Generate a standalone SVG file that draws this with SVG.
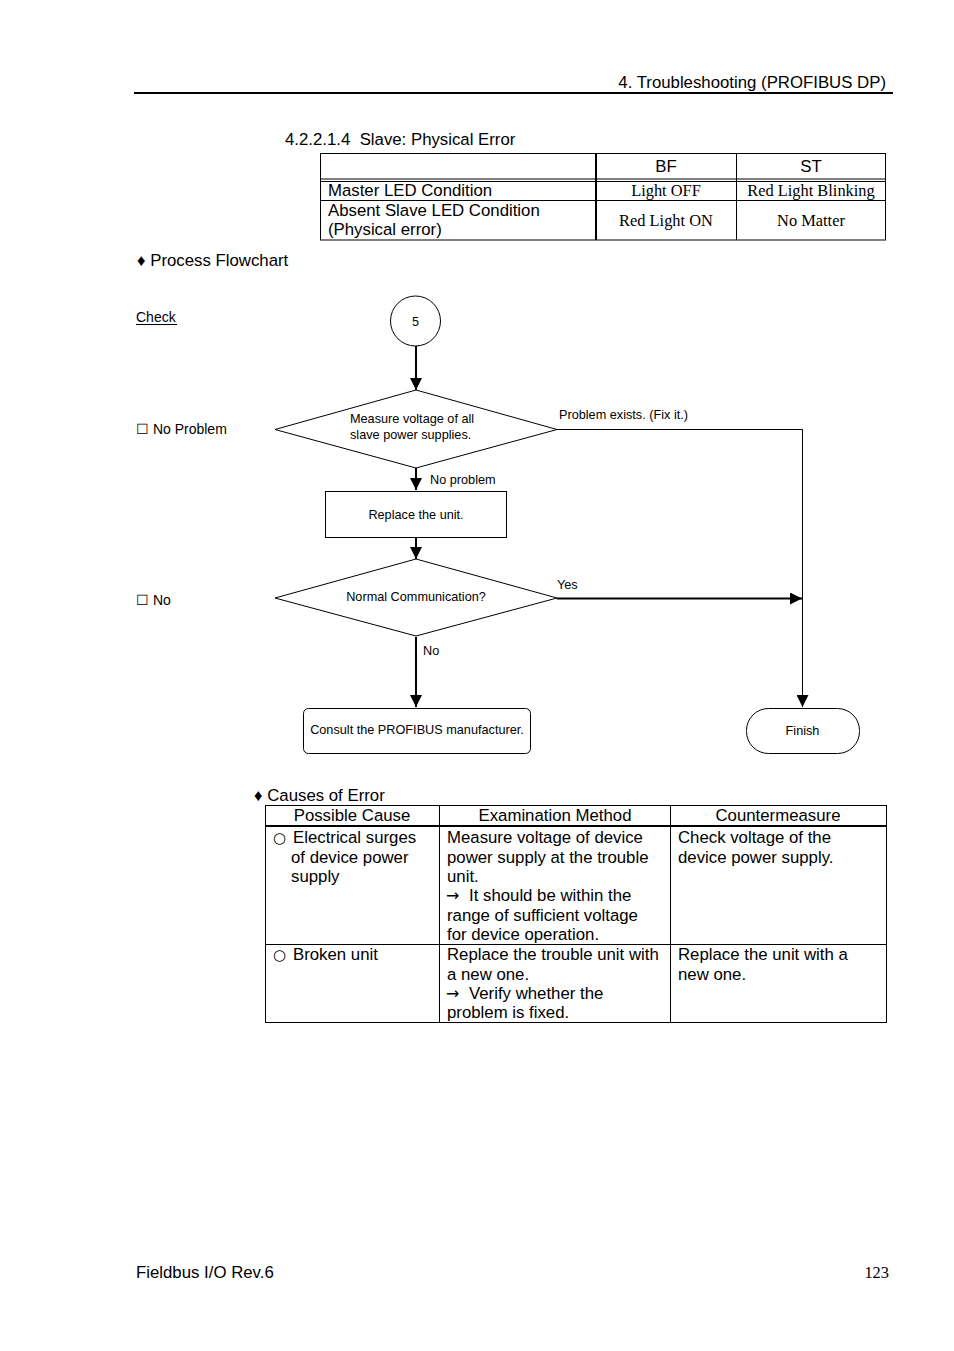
<svg xmlns="http://www.w3.org/2000/svg" width="954" height="1351" viewBox="0 0 954 1351">
<defs>
<marker id="ah" viewBox="0 0 10 10" refX="10" refY="5" markerWidth="6" markerHeight="6" markerUnits="strokeWidth" orient="auto">
<path d="M0,0 L10,5 L0,10 z" fill="#000"/>
</marker>
<marker id="ah1" viewBox="0 0 10 10" refX="10" refY="5" markerWidth="12" markerHeight="12" markerUnits="strokeWidth" orient="auto">
<path d="M0,0 L10,5 L0,10 z" fill="#000"/>
</marker>
</defs>
<style>
text{font-family:"Liberation Sans",Arial,sans-serif;fill:#000}
.s{font-size:16.8px}
.t{font-family:"Liberation Serif","Times New Roman",serif;font-size:16.4px}
.f{font-size:12.7px}
.c{text-anchor:middle}
.g{font-family:"DejaVu Sans",sans-serif}
.ln{stroke:#000;stroke-width:1;fill:none}
.shape{fill:#fff;stroke:#000;stroke-width:1}
.arr{stroke:#000;stroke-width:2;fill:none;marker-end:url(#ah)}
.arr1{stroke:#000;stroke-width:1;fill:none;marker-end:url(#ah1)}
</style>
<rect width="954" height="1351" fill="#fff"/>

<!-- header -->
<text class="s" x="886" y="88" text-anchor="end">4. Troubleshooting (PROFIBUS DP)</text>
<line x1="134" y1="93" x2="893" y2="93" stroke="#000" stroke-width="2"/>

<text class="s" x="285" y="145" xml:space="preserve">4.2.2.1.4  Slave: Physical Error</text>

<!-- LED table -->
<g id="led-table">
<rect class="ln" x="320.5" y="153.5" width="565" height="86.5"/>
<line class="ln" x1="320" y1="179" x2="886" y2="179"/>
<line class="ln" x1="320" y1="181.5" x2="886" y2="181.5"/>
<line class="ln" x1="320" y1="200.5" x2="886" y2="200.5"/>
<line x1="596" y1="153" x2="596" y2="240" stroke="#000" stroke-width="2"/>
<line class="ln" x1="736.5" y1="153" x2="736.5" y2="240"/>
<text class="s c" x="666" y="172">BF</text>
<text class="s c" x="811" y="172">ST</text>
<text class="s" x="328" y="196">Master LED Condition</text>
<text class="t c" x="666" y="196">Light OFF</text>
<text class="t c" x="811" y="196">Red Light Blinking</text>
<text class="s" x="328" y="216">Absent Slave LED Condition</text>
<text class="s" x="328" y="235">(Physical error)</text>
<text class="t c" x="666" y="226">Red Light ON</text>
<text class="t c" x="811" y="226">No Matter</text>
</g>

<text class="s" x="137" y="266">♦ Process Flowchart</text>

<!-- left labels -->
<text x="136" y="322" font-size="14">Check</text>
<line x1="136" y1="324.5" x2="177" y2="324.5" stroke="#000" stroke-width="1"/>
<text x="136" y="434" font-size="14">☐ No Problem</text>
<text x="136" y="605" font-size="14">☐ No</text>

<!-- connectors -->
<g id="connectors">
<line class="arr" x1="416" y1="346" x2="416" y2="390"/>
<line class="arr" x1="416" y1="468" x2="416" y2="490"/>
<line class="arr" x1="416" y1="537" x2="416" y2="559"/>
<line class="arr" x1="557" y1="598.5" x2="802" y2="598.5"/>
<line class="arr" x1="416" y1="637" x2="416" y2="707"/>
<polyline class="arr1" points="557,429.5 802.5,429.5 802.5,707"/>
<text class="f" x="559" y="419">Problem exists. (Fix it.)</text>
<text class="f" x="430" y="484">No problem</text>
<text class="f" x="557" y="589">Yes</text>
<text class="f" x="423" y="655">No</text>
</g>

<!-- nodes -->
<g id="start">
<circle class="shape" cx="415.5" cy="321" r="25"/>
<text class="f c" x="415.5" y="326">5</text>
</g>
<g id="measure">
<polygon class="shape" points="416,390 557,429.5 416,468 275,429.5"/>
<text class="f" x="350" y="423">Measure voltage of all</text>
<text class="f" x="350" y="439">slave power supplies.</text>
</g>
<g id="replace">
<rect class="shape" x="325.5" y="491.5" width="181" height="46"/>
<text class="f c" x="416" y="519">Replace the unit.</text>
</g>
<g id="normal">
<polygon class="shape" points="416,559 557,598 416,636 275,598"/>
<text class="f c" x="416" y="601">Normal Communication?</text>
</g>
<g id="consult">
<rect class="shape" x="303.5" y="708.5" width="227" height="45" rx="5" ry="5"/>
<text class="f c" x="417" y="734">Consult the PROFIBUS manufacturer.</text>
</g>
<g id="finish">
<rect class="shape" x="746.5" y="708.5" width="113" height="45" rx="22" ry="22"/>
<text class="f c" x="802.5" y="735">Finish</text>
</g>

<!-- causes -->
<text class="s" x="254" y="801">♦ Causes of Error</text>
<g id="causes-table">
<rect class="ln" x="265.5" y="805.5" width="621" height="217"/>
<line x1="265" y1="826" x2="887" y2="826" stroke="#000" stroke-width="2"/>
<line class="ln" x1="265" y1="944.5" x2="887" y2="944.5"/>
<line class="ln" x1="439.5" y1="805" x2="439.5" y2="1022"/>
<line class="ln" x1="670.5" y1="805" x2="670.5" y2="1022"/>
<text class="s c" x="352" y="821">Possible Cause</text>
<text class="s c" x="555" y="821">Examination Method</text>
<text class="s c" x="778" y="821">Countermeasure</text>
<text class="s"><tspan class="g" x="273" y="843" font-size="15">○</tspan><tspan x="293" y="843">Electrical surges</tspan></text>
<text class="s" x="291" y="863">of device power</text>
<text class="s" x="291" y="882">supply</text>
<text class="s" x="447" y="843">Measure voltage of device</text>
<text class="s" x="447" y="863">power supply at the trouble</text>
<text class="s" x="447" y="882">unit.</text>
<text class="s"><tspan class="g" x="446" y="901" font-size="16">→</tspan><tspan x="469" y="901">It should be within the</tspan></text>
<text class="s" x="447" y="921">range of sufficient voltage</text>
<text class="s" x="447" y="940">for device operation.</text>
<text class="s" x="678" y="843">Check voltage of the</text>
<text class="s" x="678" y="863">device power supply.</text>
<text class="s"><tspan class="g" x="273" y="960" font-size="15">○</tspan><tspan x="293" y="960">Broken unit</tspan></text>
<text class="s" x="447" y="960">Replace the trouble unit with</text>
<text class="s" x="447" y="980">a new one.</text>
<text class="s"><tspan class="g" x="446" y="999" font-size="16">→</tspan><tspan x="469" y="999">Verify whether the</tspan></text>
<text class="s" x="447" y="1018">problem is fixed.</text>
<text class="s" x="678" y="960">Replace the unit with a</text>
<text class="s" x="678" y="980">new one.</text>
</g>

<!-- footer -->
<text class="s" x="136" y="1278">Fieldbus I/O Rev.6</text>
<text class="t" x="889" y="1278" text-anchor="end">123</text>
</svg>
